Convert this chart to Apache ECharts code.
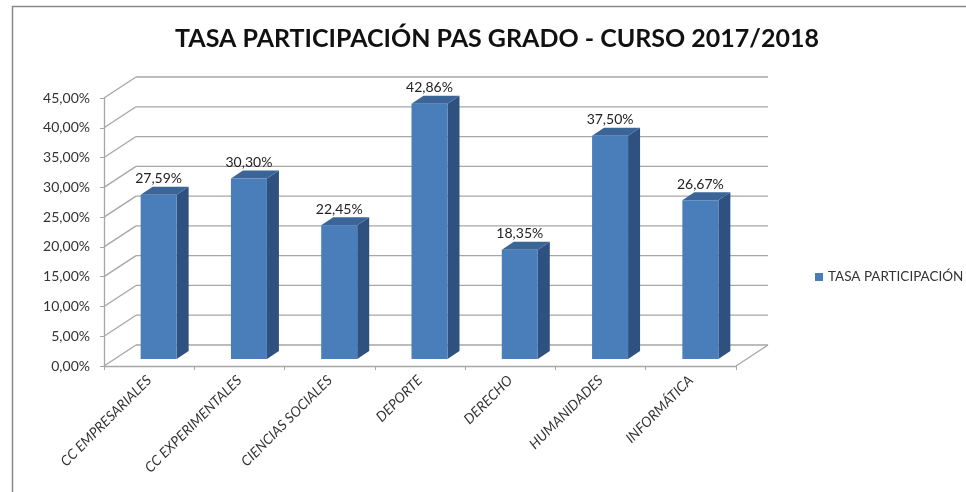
<!DOCTYPE html>
<html>
<head>
<meta charset="utf-8">
<title>Tasa participación PAS grado</title>
<script src="https://cdn.jsdelivr.net/npm/echarts@6/dist/echarts.min.js"></script>
<style>
  html, body { margin: 0; padding: 0; background: #ffffff; }
  #chart { width: 966px; height: 492px; }
</style>
</head>
<body>
<div id="chart"></div>
<script>
// datos del gráfico
var titulo = "TASA PARTICIPACIÓN PAS GRADO - CURSO 2017/2018";
var serieNombre = "TASA PARTICIPACIÓN";
var categorias = ["CC EMPRESARIALES", "CC EXPERIMENTALES", "CIENCIAS SOCIALES", "DEPORTE", "DERECHO", "HUMANIDADES", "INFORMÁTICA"];
var tasas = [27.59, 30.30, 22.45, 42.86, 18.35, 37.50, 26.67];
var ticksY = [0, 5, 10, 15, 20, 25, 30, 35, 40, 45];

var myChart = echarts.init(document.getElementById("chart"));

// profundidad de la caja 3D (pared del fondo)
var DX = 32, DY = -21;
// posicion de la barra dentro de la caja
var OX = 9.5, OY = -7, BW = 36, SX = 12, SY = -8;

function fmt(v) {
  return v.toFixed(2).replace(".", ",") + "%";
}

function renderWalls(params, api) {
  var cs = params.coordSys;
  var v = api.value(1);
  var p = api.coord([0, v]);
  var y = p[1];
  var x0 = cs.x, x1 = cs.x + cs.width;
  var style = { stroke: "#a6a6a6", lineWidth: 1.3 };
  var children = [
    { type: "line", shape: { x1: x0, y1: y, x2: x0 + DX, y2: y + DY }, style: style },
    { type: "line", shape: { x1: x0 + DX, y1: y + DY, x2: x1 + DX, y2: y + DY }, style: style }
  ];
  if (v === 0) {
    children.push({ type: "line", shape: { x1: x1, y1: y, x2: x1 + DX, y2: y + DY }, style: style });
  }
  return { type: "group", children: children };
}

function renderBar(params, api) {
  var i = api.value(0);
  var v = api.value(1);
  var top = api.coord([i, v]);
  var base = api.coord([i, 0]);
  var l = top[0] - BW / 2 + OX;
  var r = l + BW;
  var t = top[1] + OY;
  var b = base[1] + OY;
  return {
    type: "group",
    children: [
      { type: "polygon", shape: { points: [[r, t], [r + SX, t + SY], [r + SX, b + SY], [r, b]] }, style: { fill: "#2f5180" } },
      { type: "polygon", shape: { points: [[l, t], [l + SX, t + SY], [r + SX, t + SY], [r, t]] }, style: { fill: "#3b6497" } },
      { type: "rect", shape: { x: l, y: t, width: BW, height: b - t }, style: { fill: "#4a7ebb" } },
      {
        type: "text",
        x: (l + r) / 2,
        y: t + SY - 8,
        style: { text: fmt(v), fill: "#222", font: "14px Lato", align: "center", verticalAlign: "middle" }
      }
    ]
  };
}

var option = {
  backgroundColor: "#ffffff",
  animation: false,
  title: {
    text: titulo,
    left: 492,
    top: 21,
    textAlign: "center",
    textStyle: { fontFamily: "Lato", fontWeight: "bold", fontSize: 25, color: "#111" }
  },
  graphic: [
    {
      type: "polyline",
      shape: { points: [[12.5, 492], [12.5, 6.5], [966, 6.5]] },
      style: { stroke: "#8a8a8a", lineWidth: 1.5, fill: null }
    }
  ],
  legend: {
    data: [{ name: serieNombre, icon: "rect" }],
    left: 810,
    top: 265,
    itemWidth: 8,
    itemHeight: 8,
    itemGap: 6,
    textStyle: { fontFamily: "Lato", fontSize: 13.5, color: "#333" }
  },
  color: ["#4a7ebb"],
  grid: {
    left: 104,
    right: 230,
    top: 98,
    bottom: 126,
    outerBoundsMode: "none"
  },
  xAxis: {
    type: "category",
    data: categorias,
    boundaryGap: true,
    axisLine: { lineStyle: { color: "#a6a6a6", width: 1.3 } },
    axisTick: { show: true, length: 4, lineStyle: { color: "#a6a6a6" } },
    axisLabel: {
      rotate: 45,
      interval: 0,
      margin: 12,
      fontFamily: "Lato",
      fontStyle: "italic",
      fontSize: 14,
      color: "#333"
    },
    splitLine: { show: false }
  },
  yAxis: {
    type: "value",
    min: 0,
    max: 45,
    interval: 5,
    axisLine: { show: true, lineStyle: { color: "#a6a6a6", width: 1.3 } },
    axisTick: { show: true, length: 4, lineStyle: { color: "#a6a6a6" } },
    axisLabel: {
      margin: 14,
      fontFamily: "Lato",
      fontSize: 14,
      color: "#333",
      formatter: function (v) { return fmt(v); }
    },
    splitLine: { show: false }
  },
  series: [
    {
      name: "paredes",
      type: "custom",
      silent: true,
      z: 1,
      renderItem: renderWalls,
      encode: { x: 0, y: 1 },
      data: ticksY.map(function (v) { return [0, v]; })
    },
    {
      name: serieNombre,
      type: "custom",
      z: 3,
      renderItem: renderBar,
      encode: { x: 0, y: 1 },
      data: tasas.map(function (v, i) { return [i, v]; })
    }
  ]
};

myChart.setOption(option);
</script>
</body>
</html>
